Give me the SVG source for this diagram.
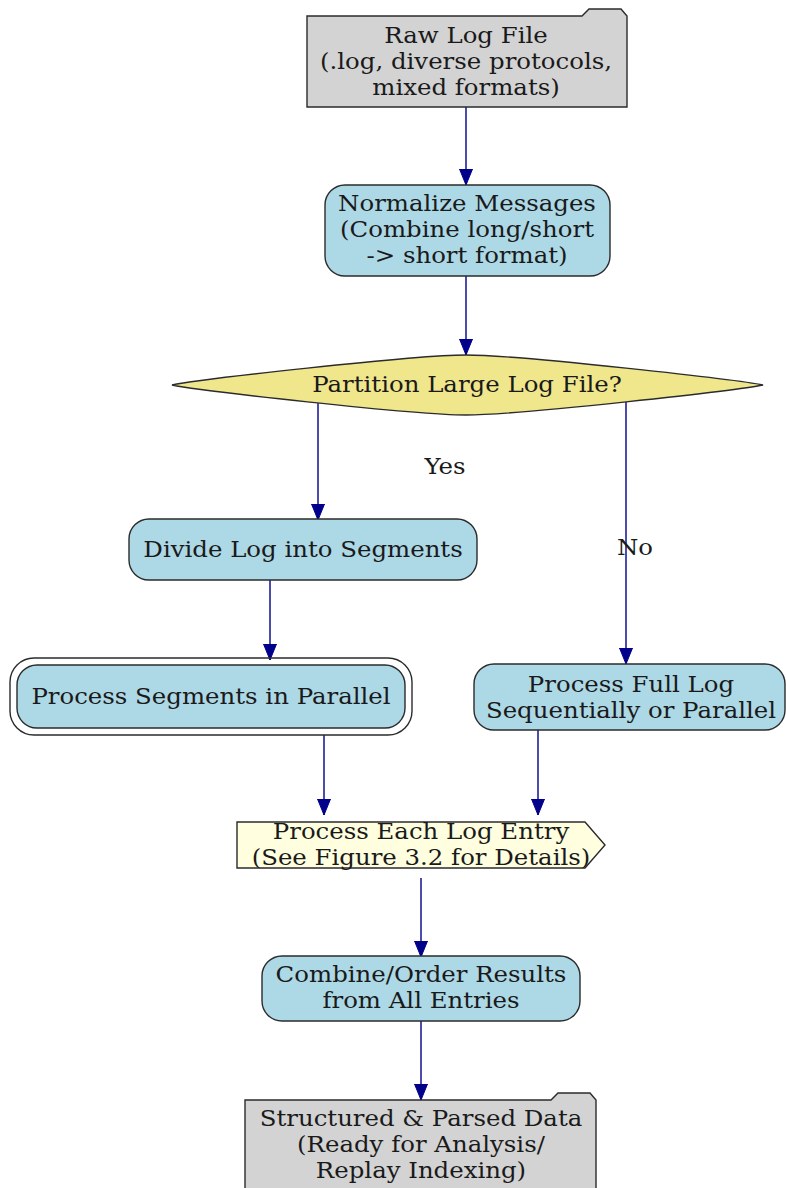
<svg xmlns="http://www.w3.org/2000/svg" width="786" height="1188" viewBox="0 0 786 1188">
  <style>
    /* labels: serif at 22px, widened ~11% horizontally via each text's matrix */
    text { font-family: "DejaVu Serif", "Liberation Serif", serif; font-size: 22px; fill: #1a1a1a; text-anchor: middle; }
    .box { fill: #add8e6; stroke: #2b2b2b; stroke-width: 1.4; }
    .file { fill: #d3d3d3; stroke: #2b2b2b; stroke-width: 1.4; }
    .edge { fill: none; stroke: #00008b; stroke-width: 1.4; }
  </style>
  <defs>
    <marker id="arrow" viewBox="0 0 16 14" refX="16" refY="7" markerWidth="16" markerHeight="14" markerUnits="userSpaceOnUse" orient="auto">
      <path d="M0,0.5 L16,7 L0,13.5 Z" fill="#00008b" stroke="#00008b" stroke-width="1"/>
    </marker>
  </defs>
  <rect width="786" height="1188" fill="#ffffff"/>

  <g id="connectors">
    <path class="edge" d="M466,107 V185" marker-end="url(#arrow)"/>
    <path class="edge" d="M466,276 V355" marker-end="url(#arrow)"/>
    <path class="edge" d="M318,401 V520" marker-end="url(#arrow)"/>
    <text transform="matrix(1.11 0 0 1 445 0)" y="474">Yes</text>
    <path class="edge" d="M626,401 V664" marker-end="url(#arrow)"/>
    <text transform="matrix(1.11 0 0 1 635 0)" y="555">No</text>
    <path class="edge" d="M270,580 V660" marker-end="url(#arrow)"/>
    <path class="edge" d="M324,735 V815" marker-end="url(#arrow)"/>
    <path class="edge" d="M538,730 V815" marker-end="url(#arrow)"/>
    <path class="edge" d="M421,878 V957" marker-end="url(#arrow)"/>
    <path class="edge" d="M421,1021 V1100" marker-end="url(#arrow)"/>
  </g>

  <g id="raw-log-file">
    <path class="file" d="M307,16 H582 L589,9 H621 L627,16 V107 H307 Z"/>
    <text transform="matrix(1.11 0 0 1 466 0)" y="43">Raw Log File</text>
    <text transform="matrix(1.11 0 0 1 466 0)" y="69">(.log, diverse protocols,</text>
    <text transform="matrix(1.11 0 0 1 466 0)" y="95">mixed formats)</text>
  </g>

  <g id="normalize">
    <rect class="box" x="325" y="185" width="285" height="91" rx="20"/>
    <text transform="matrix(1.11 0 0 1 467 0)" y="211">Normalize Messages</text>
    <text transform="matrix(1.11 0 0 1 467 0)" y="237">(Combine long/short</text>
    <text transform="matrix(1.11 0 0 1 467 0)" y="263">-&gt; short format)</text>
  </g>

  <g id="partition">
    <path d="M466,355 C520,355 740,380 763,385 C740,390 520,415 466,415 C412,415 195,390 172,385 C195,380 412,355 466,355 Z" fill="#f0e68c" stroke="#2b2b2b" stroke-width="1.4"/>
    <text transform="matrix(1.11 0 0 1 467 0)" y="392">Partition Large Log File?</text>
  </g>

  <g id="divide">
    <rect class="box" x="129" y="519" width="348" height="61" rx="20"/>
    <text transform="matrix(1.11 0 0 1 303 0)" y="557">Divide Log into Segments</text>
  </g>

  <g id="segments-parallel">
    <rect x="10" y="658" width="402" height="77" rx="24" fill="none" stroke="#2b2b2b" stroke-width="1.4"/>
    <rect class="box" x="17" y="665" width="388" height="63" rx="20"/>
    <text transform="matrix(1.11 0 0 1 211 0)" y="704">Process Segments in Parallel</text>
  </g>

  <g id="full-log">
    <rect class="box" x="474" y="664" width="311" height="66" rx="20"/>
    <text transform="matrix(1.11 0 0 1 631 0)" y="692">Process Full Log</text>
    <text transform="matrix(1.11 0 0 1 631 0)" y="718">Sequentially or Parallel</text>
  </g>

  <g id="each-entry">
    <path d="M237,822 H585 L605,845 L585,868 H237 Z" fill="#ffffe0" stroke="#2b2b2b" stroke-width="1.4"/>
    <text transform="matrix(1.11 0 0 1 421 0)" y="839">Process Each Log Entry</text>
    <text transform="matrix(1.11 0 0 1 421 0)" y="865">(See Figure 3.2 for Details)</text>
  </g>

  <g id="combine">
    <rect class="box" x="262" y="956" width="318" height="65" rx="20"/>
    <text transform="matrix(1.11 0 0 1 421 0)" y="982">Combine/Order Results</text>
    <text transform="matrix(1.11 0 0 1 421 0)" y="1008">from All Entries</text>
  </g>

  <g id="structured-data">
    <path class="file" d="M245,1100 H551 L558,1093 H590 L596,1100 V1195 H245 Z"/>
    <text transform="matrix(1.11 0 0 1 421 0)" y="1126">Structured &amp; Parsed Data</text>
    <text transform="matrix(1.11 0 0 1 421 0)" y="1152">(Ready for Analysis/</text>
    <text transform="matrix(1.11 0 0 1 421 0)" y="1178">Replay Indexing)</text>
  </g>
</svg>
